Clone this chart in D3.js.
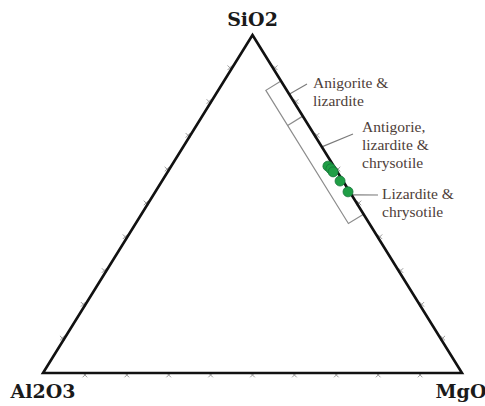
<!DOCTYPE html>
<html>
<head>
<meta charset="utf-8">
<script src="https://cdn.jsdelivr.net/npm/d3@7"></script>
<style>
  html, body { margin: 0; padding: 0; background: #fff; }
  svg { display: block; }
</style>
</head>
<body>
<svg id="chart" width="485" height="406"></svg>
<script>
// Ternary SiO2 – MgO – Al2O3 diagram with serpentine mineral fields

// Corner components
const components = ["SiO2", "MgO", "Al2O3"];

// Sample compositions (wt fraction)
const sampleSiO2  = [0.612, 0.604, 0.595, 0.568, 0.536];
const sampleMgO   = [0.374, 0.385, 0.395, 0.425, 0.460];
const sampleAl2O3 = [0.014, 0.011, 0.010, 0.007, 0.004];

// Grid tick fractions along each edge
const tickFractions = [0.1, 0.2, 0.3, 0.4, 0.5, 0.6, 0.7, 0.8, 0.9];

// Mineral field bracket along the SiO2–MgO edge (SiO2 fraction on the edge)
const fieldBounds = [0.864, 0.760, 0.470];   // top, divider, bottom
const fieldWidthAl2O3 = 0.05;

// Field labels, and where their leaders meet the SiO2–MgO edge
const fieldLabels = [
  ["Anigorite &", "lizardite"],
  ["Antigorie,", "lizardite &", "chrysotile"],
  ["Lizardite &", "chrysotile"]
];
const leaderSiO2 = [0.825, 0.669, 0.527];

const svg = d3.select("#chart");

// Cartesian scales: X = MgO + SiO2/2, Y = SiO2
const x = d3.scaleLinear().domain([0, 1]).range([43, 462]);
const y = d3.scaleLinear().domain([0, 1]).range([373, 35]);

function project(s, m, a) {
  const t = s + m + a;
  s /= t; m /= t;
  return [x(m + s / 2), y(s)];
}

const S = project(1, 0, 0), M = project(0, 1, 0), A = project(0, 0, 1);

// Unit normal to the SiO2–MgO edge, pointing into the triangle
const ex = M[0] - S[0], ey = M[1] - S[1];
const eLen = Math.hypot(ex, ey);
const nx = -ey / eLen, ny = ex / eLen;
const inward = (nx * (A[0] - S[0]) + ny * (A[1] - S[1])) > 0 ? 1 : -1;
const NX = nx * inward, NY = ny * inward;
// Distance from the Al2O3 corner to the opposite edge
const hA = Math.abs(nx * (A[0] - S[0]) + ny * (A[1] - S[1]));

function edgePoint(s) { return project(s, 1 - s, 0); }
function offsetPoint(p, frac) { return [p[0] + NX * hA * frac, p[1] + NY * hA * frac]; }

// Edge ticks (small crosses, slightly outside each edge)
const tickG = svg.append("g").attr("stroke", "#9a9a9a").attr("stroke-width", 1).attr("fill", "none");
const centroid = [(S[0] + M[0] + A[0]) / 3, (S[1] + M[1] + A[1]) / 3];
const edges = [[A, S], [S, M], [M, A]];
edges.forEach(([p, q]) => {
  tickFractions.forEach(f => {
    const cx0 = p[0] + (q[0] - p[0]) * f, cy0 = p[1] + (q[1] - p[1]) * f;
    let ox = cx0 - centroid[0], oy = cy0 - centroid[1];
    const dx = q[0] - p[0], dy = q[1] - p[1], dl = Math.hypot(dx, dy);
    let px = -dy / dl, py = dx / dl;
    if (px * ox + py * oy < 0) { px = -px; py = -py; }
    const cx = cx0 + px * 2, cy = cy0 + py * 2, r = 2.3;
    tickG.append("path").attr("d", `M${cx - r},${cy - r}L${cx + r},${cy + r}M${cx - r},${cy + r}L${cx + r},${cy - r}`);
  });
});

// Mineral field bracket
const boxG = svg.append("g").attr("stroke", "#8c8c8c").attr("stroke-width", 1.2).attr("fill", "none");
const top0 = edgePoint(fieldBounds[0]), bot0 = edgePoint(fieldBounds[2]);
const top1 = offsetPoint(top0, fieldWidthAl2O3), bot1 = offsetPoint(bot0, fieldWidthAl2O3);
boxG.append("path").attr("d", d3.line()([top0, top1, bot1, bot0]));
fieldBounds.slice(1, -1).forEach(s => {
  const p0 = edgePoint(s), p1 = offsetPoint(p0, fieldWidthAl2O3);
  boxG.append("path").attr("d", d3.line()([p0, p1]));
});

// Leader lines and labels
const labelAnchors = [[313, 88], [362, 132], [382, 199]];
const leaderEnds = [[307, 84], [353, 134], [378, 195]];
const leadG = svg.append("g").attr("stroke", "#7a7a7a").attr("stroke-width", 1.1);
leaderSiO2.forEach((s, i) => {
  const p = edgePoint(s);
  leadG.append("line").attr("x1", p[0]).attr("y1", p[1])
    .attr("x2", leaderEnds[i][0]).attr("y2", leaderEnds[i][1]);
});
fieldLabels.forEach((lines, i) => {
  const t = svg.append("text")
    .attr("x", labelAnchors[i][0]).attr("y", labelAnchors[i][1])
    .attr("font-family", "'Liberation Serif', 'Times New Roman', serif")
    .attr("font-size", 15.5).attr("fill", "#4e4039");
  lines.forEach((ln, j) => {
    t.append("tspan").attr("x", labelAnchors[i][0]).attr("dy", j === 0 ? 0 : 18).text(ln);
  });
});

// Triangle outline
svg.append("path")
  .attr("d", d3.line()([S, M, A]) + "Z")
  .attr("fill", "none").attr("stroke", "#111").attr("stroke-width", 2.6)
  .attr("stroke-linejoin", "miter");

// Samples
svg.append("g").selectAll("circle")
  .data(sampleSiO2.map((s, i) => project(s, sampleMgO[i], sampleAl2O3[i])))
  .join("circle")
  .attr("cx", d => d[0]).attr("cy", d => d[1]).attr("r", 5)
  .attr("fill", "#1f9e45").attr("stroke", "#15753a").attr("stroke-width", 0.8);

// Corner labels
const cornerG = svg.append("g")
  .attr("font-family", "'DejaVu Serif', serif").attr("font-weight", "bold")
  .attr("font-size", 19).attr("fill", "#1a1a1a");
cornerG.append("text").attr("x", S[0]).attr("y", 26).attr("text-anchor", "middle").text(components[0]);
cornerG.append("text").attr("x", 461).attr("y", 398).attr("text-anchor", "middle").text(components[1]);
cornerG.append("text").attr("x", 43).attr("y", 398).attr("text-anchor", "middle").text(components[2]);
</script>
</body>
</html>
